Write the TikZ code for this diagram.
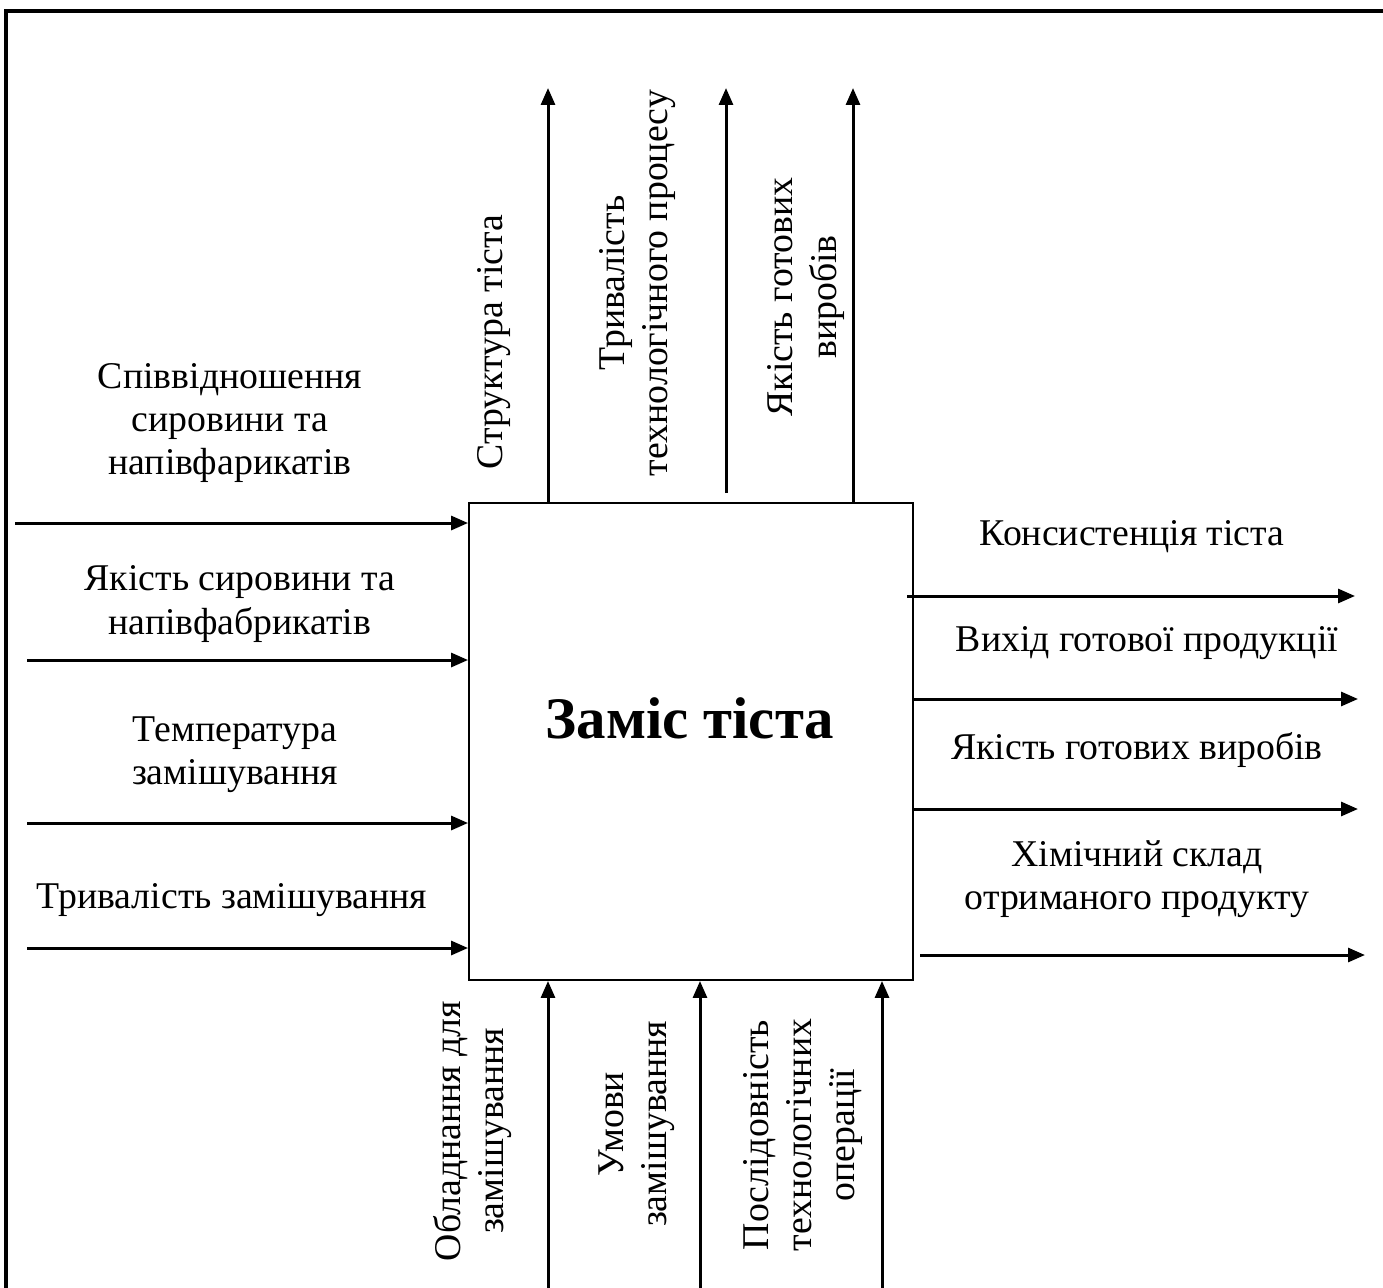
\documentclass[tikz,border=0pt]{standalone}
\usepackage{fontspec}
\setmainfont{Liberation Serif}
\usetikzlibrary{arrows.meta}

\begin{document}
\begin{tikzpicture}[x=0.02cm, y=-0.02cm,
	flow/.style={black, line width=0.6mm, -{Triangle[length=3.4mm, width=2.8mm]}},
	lbl/.style={align=center, inner sep=0pt, font=\fontsize{21.5}{24.5}\selectfont},
	vlbl/.style={lbl, rotate=90}]
\useasboundingbox (0,0) rectangle (1383,1288);
\draw[black, line width=1mm](4,11)--(1383,11);
\draw[black, line width=1mm](6,9)--(6,1288);
\node[draw, black, line width=0.4mm, minimum width=8.88cm, minimum height=9.54cm] (box) at (691,741.5) {};
\node[font=\bfseries\fontsize{33.5}{40}\selectfont, inner sep=0pt] (title) at (690,718) {Заміс тіста};

\foreach \n/\x/\y in {1/15/523, 2/27/660, 3/27/823, 4/27/948}{
	\coordinate (in\n) at (\x,\y);
	\draw[flow](in\n)--(in\n -| box.west);
}
\node[lbl] (lin1) at (230,423) {Співвідношення\\сировини та\\напівфарикатів};
\node[lbl] (lin2) at (240,604) {Якість сировини та\\напівфабрикатів};
\node[lbl] (lin3) at (235,755) {Температура\\замішування};
\node[lbl] (lin4) at (232,900) {Тривалість замішування};

\coordinate (up1) at (548,88);
\coordinate (up2s) at (726,493);
\coordinate (up2) at (726,88);
\coordinate (up3) at (853,88);
\draw[flow](up1 |- box.north)--(up1);
\draw[flow](up2s)--(up2);
\draw[flow](up3 |- box.north)--(up3);
\node[vlbl] (lup1) at (494,342) {Структура тіста};
\node[vlbl] (lup2) at (638,283) {Тривалість\\технологічного процесу};
\node[vlbl] (lup3) at (806,297) {Якість готових\\виробів};

\foreach \n/\x in {1/548, 2/700, 3/882}{
	\coordinate (ctl\n) at (\x,1288);
	\draw[flow](ctl\n)--(ctl\n |- box.south);
}
\node[vlbl] (lctl1) at (473,1131) {Обладнання для\\замішування};
\node[vlbl] (lctl2) at (637,1124) {Умови\\замішування};
\node[vlbl] (lctl3) at (803,1135) {Послідовність\\технологічних\\операції};

\coordinate (rs1) at (907,596);
\coordinate (r1) at (1355,596);
\coordinate (r2) at (1358,699);
\coordinate (r3) at (1358,809);
\coordinate (rs4) at (920,955);
\coordinate (r4) at (1365,955);
\draw[flow](rs1)--(r1);
\draw[flow](r2 -| box.east)--(r2);
\draw[flow](r3 -| box.east)--(r3);
\draw[flow](rs4)--(r4);
\node[lbl] (lr1) at (1132,537) {Консистенція тіста};
\node[lbl] (lr2) at (1147,643) {Вихід готової продукції};
\node[lbl] (lr3) at (1137,750) {Якість готових виробів};
\node[lbl] (lr4) at (1137,879) {Хімічний склад\\отриманого продукту};
\end{tikzpicture}
\end{document}
